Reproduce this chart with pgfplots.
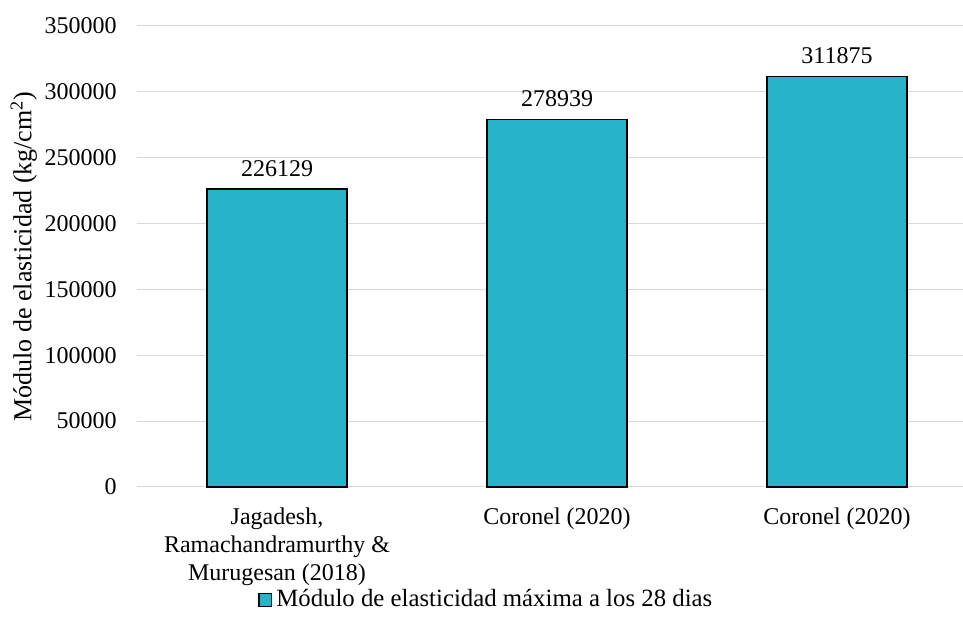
\documentclass[border=0pt]{standalone}
\usepackage{fontspec}
\setmainfont{Liberation Serif}
\usepackage{pgfplots}
\pgfplotsset{compat=1.18}
\definecolor{barfill}{RGB}{40,180,200}
\definecolor{gridgray}{RGB}{217,217,217}
\definecolor{axisgray}{RGB}{191,191,191}
\begin{document}
\fontsize{12}{14}\selectfont
\begin{tikzpicture}
\useasboundingbox (0,0) rectangle (481.5pt,315pt);
\begin{axis}[
  at={(68.5pt,71.5pt)}, anchor=south west,
  scale only axis, width=413pt, height=230.5pt,
  ybar, bar width=70pt,
  xmin=-0.5, xmax=2.45,
  ymin=0, ymax=350000,
  ytick={0,50000,...,350000},
  scaled y ticks=false,
  xtick=data,
  xticklabels={{Jagadesh,\\Ramachandramurthy \&\\Murugesan (2018)},{Coronel (2020)},{Coronel (2020)}},
  xticklabel style={align=center, yshift=-6pt},
  yticklabel style={xshift=-6pt},
  axis line style={draw=none},
  major tick length=0pt,
  tick style={draw=none},
  ymajorgrids, major grid style={gridgray, line width=0.5pt},
  extra y ticks={0}, extra y tick labels={},
  extra y tick style={grid style={axisgray, line width=0.6pt}},
  /pgf/number format/fixed,
  /pgf/number format/1000 sep={},
  /pgf/number format/assume math mode=true,
  ylabel={Módulo de elasticidad (kg/cm\textsuperscript{2})},
  ylabel style={at={(axis description cs:-0.137,0.5)}, anchor=center, font=\fontsize{13}{15}\selectfont},
  point meta=explicit symbolic,
  nodes near coords,
  nodes near coords style={yshift=2pt},
  legend style={at={(0.424,-0.245)}, anchor=center, draw=none, fill=none, font=\fontsize{12.4}{14}\selectfont},
  legend image code/.code={\draw[#1] (0pt,-3.2pt) rectangle (6.4pt,3.2pt);},
  clip=false,
]
\addplot[fill=barfill, draw=black, line width=0.7pt]
  coordinates {(0,226129) [226129] (1,278939) [278939] (2,311875) [311875]};
\addlegendentry{Módulo de elasticidad máxima a los 28 dias}
\end{axis}
\end{tikzpicture}
\end{document}
